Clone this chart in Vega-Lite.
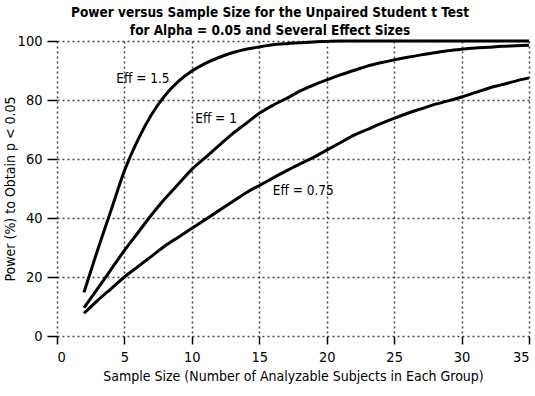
{
  "$schema": "https://vega.github.io/schema/vega-lite/v6.json",
  "width": 472,
  "height": 295,
  "autosize": {"type": "none"},
  "padding": {"left": 57, "top": 41, "right": 6, "bottom": 60},
  "background": "white",
  "title": {
    "text": ["Power versus Sample Size for the Unpaired Student t Test", "for Alpha = 0.05 and Several Effect Sizes"],
    "font": "DejaVu Sans Condensed, sans-serif",
    "fontSize": 13.5,
    "fontWeight": "bold",
    "color": "black",
    "anchor": "middle",
    "dx": -23,
    "offset": -4,
    "lineHeight": 18
  },
  "config": {
    "view": {"stroke": null},
    "font": "DejaVu Sans Condensed, sans-serif",
    "axis": {
      "labelFont": "DejaVu Sans Condensed, sans-serif",
      "titleFont": "DejaVu Sans Condensed, sans-serif",
      "labelFontSize": 14.5,
      "titleFontSize": 14,
      "titleFontWeight": "normal",
      "labelColor": "black",
      "titleColor": "black",
      "domain": false,
      "tickColor": "black",
      "tickWidth": 1.5,
      "gridColor": "#444",
      "gridDash": [2, 3],
      "gridWidth": 1.5,
      "gridOpacity": 1
    }
  },
  "datasets": {
    "curves": [
      {"n": 2, "power": 14.8, "eff": "1.5"}, {"n": 3, "power": 29, "eff": "1.5"}, {"n": 4, "power": 42.5, "eff": "1.5"}, {"n": 5, "power": 56, "eff": "1.5"}, {"n": 6, "power": 66.5, "eff": "1.5"}, {"n": 7, "power": 75, "eff": "1.5"}, {"n": 8, "power": 81.5, "eff": "1.5"}, {"n": 9, "power": 86.3, "eff": "1.5"}, {"n": 10, "power": 89.8, "eff": "1.5"}, {"n": 11, "power": 92.4, "eff": "1.5"}, {"n": 12, "power": 94.4, "eff": "1.5"}, {"n": 13, "power": 96, "eff": "1.5"}, {"n": 14, "power": 97.2, "eff": "1.5"}, {"n": 15, "power": 98, "eff": "1.5"}, {"n": 16, "power": 98.7, "eff": "1.5"}, {"n": 17, "power": 99.1, "eff": "1.5"}, {"n": 18, "power": 99.4, "eff": "1.5"}, {"n": 19, "power": 99.7, "eff": "1.5"}, {"n": 20, "power": 99.85, "eff": "1.5"}, {"n": 21, "power": 100, "eff": "1.5"}, {"n": 22, "power": 100, "eff": "1.5"}, {"n": 23, "power": 100, "eff": "1.5"}, {"n": 24, "power": 100, "eff": "1.5"}, {"n": 25, "power": 100, "eff": "1.5"}, {"n": 26, "power": 100, "eff": "1.5"}, {"n": 27, "power": 100, "eff": "1.5"}, {"n": 28, "power": 100, "eff": "1.5"}, {"n": 29, "power": 100, "eff": "1.5"}, {"n": 30, "power": 100, "eff": "1.5"}, {"n": 31, "power": 100, "eff": "1.5"}, {"n": 32, "power": 100, "eff": "1.5"}, {"n": 33, "power": 100, "eff": "1.5"}, {"n": 34, "power": 100, "eff": "1.5"}, {"n": 35, "power": 100, "eff": "1.5"},
      {"n": 2, "power": 9.6, "eff": "1"}, {"n": 3, "power": 16, "eff": "1"}, {"n": 4, "power": 22.5, "eff": "1"}, {"n": 5, "power": 29, "eff": "1"}, {"n": 6, "power": 35, "eff": "1"}, {"n": 7, "power": 41, "eff": "1"}, {"n": 8, "power": 46.5, "eff": "1"}, {"n": 9, "power": 51.5, "eff": "1"}, {"n": 10, "power": 56.5, "eff": "1"}, {"n": 11, "power": 60.5, "eff": "1"}, {"n": 12, "power": 64.5, "eff": "1"}, {"n": 13, "power": 68.5, "eff": "1"}, {"n": 14, "power": 72, "eff": "1"}, {"n": 15, "power": 75.5, "eff": "1"}, {"n": 16, "power": 78.2, "eff": "1"}, {"n": 17, "power": 80.5, "eff": "1"}, {"n": 18, "power": 83, "eff": "1"}, {"n": 19, "power": 85, "eff": "1"}, {"n": 20, "power": 86.8, "eff": "1"}, {"n": 21, "power": 88.5, "eff": "1"}, {"n": 22, "power": 90, "eff": "1"}, {"n": 23, "power": 91.5, "eff": "1"}, {"n": 24, "power": 92.6, "eff": "1"}, {"n": 25, "power": 93.6, "eff": "1"}, {"n": 26, "power": 94.5, "eff": "1"}, {"n": 27, "power": 95.3, "eff": "1"}, {"n": 28, "power": 96, "eff": "1"}, {"n": 29, "power": 96.7, "eff": "1"}, {"n": 30, "power": 97.2, "eff": "1"}, {"n": 31, "power": 97.6, "eff": "1"}, {"n": 32, "power": 97.9, "eff": "1"}, {"n": 33, "power": 98.2, "eff": "1"}, {"n": 34, "power": 98.4, "eff": "1"}, {"n": 35, "power": 98.6, "eff": "1"},
      {"n": 2, "power": 7.7, "eff": "0.75"}, {"n": 3, "power": 12, "eff": "0.75"}, {"n": 4, "power": 16, "eff": "0.75"}, {"n": 5, "power": 20, "eff": "0.75"}, {"n": 6, "power": 23.5, "eff": "0.75"}, {"n": 7, "power": 27, "eff": "0.75"}, {"n": 8, "power": 30.5, "eff": "0.75"}, {"n": 9, "power": 33.5, "eff": "0.75"}, {"n": 10, "power": 36.5, "eff": "0.75"}, {"n": 11, "power": 39.5, "eff": "0.75"}, {"n": 12, "power": 42.5, "eff": "0.75"}, {"n": 13, "power": 45.5, "eff": "0.75"}, {"n": 14, "power": 48.5, "eff": "0.75"}, {"n": 15, "power": 51, "eff": "0.75"}, {"n": 16, "power": 53.5, "eff": "0.75"}, {"n": 17, "power": 56, "eff": "0.75"}, {"n": 18, "power": 58.3, "eff": "0.75"}, {"n": 19, "power": 60.5, "eff": "0.75"}, {"n": 20, "power": 63, "eff": "0.75"}, {"n": 21, "power": 65.5, "eff": "0.75"}, {"n": 22, "power": 68, "eff": "0.75"}, {"n": 23, "power": 70, "eff": "0.75"}, {"n": 24, "power": 72, "eff": "0.75"}, {"n": 25, "power": 73.8, "eff": "0.75"}, {"n": 26, "power": 75.5, "eff": "0.75"}, {"n": 27, "power": 77, "eff": "0.75"}, {"n": 28, "power": 78.5, "eff": "0.75"}, {"n": 29, "power": 79.7, "eff": "0.75"}, {"n": 30, "power": 81, "eff": "0.75"}, {"n": 31, "power": 82.5, "eff": "0.75"}, {"n": 32, "power": 84, "eff": "0.75"}, {"n": 33, "power": 85.2, "eff": "0.75"}, {"n": 34, "power": 86.4, "eff": "0.75"}, {"n": 35, "power": 87.5, "eff": "0.75"}
    ],
    "labels": [
      {"n": 4.4, "power": 87, "label": "Eff = 1.5"},
      {"n": 10.25, "power": 73.4, "label": "Eff = 1"},
      {"n": 16.0, "power": 49.3, "label": "Eff = 0.75"}
    ]
  },
  "layer": [
    {
      "data": {"name": "curves"},
      "mark": {"type": "line", "color": "black", "strokeWidth": 3, "clip": false, "interpolate": "monotone"},
      "encoding": {
        "x": {
          "field": "n", "type": "quantitative",
          "scale": {"domain": [0, 35], "nice": false, "zero": false},
          "axis": {"values": [0, 5, 10, 15, 20, 25, 30, 35], "tickSize": 8, "labelPadding": 6, "title": "Sample Size (Number of Analyzable Subjects in Each Group)", "titlePadding": 6}
        },
        "y": {
          "field": "power", "type": "quantitative",
          "scale": {"domain": [0, 100], "nice": false},
          "axis": {"values": [0, 20, 40, 60, 80, 100], "tickSize": 10, "labelPadding": 5, "title": "Power (%) to Obtain p < 0.05", "titleX": -47, "titleY": 147.5, "titleAngle": -90, "titleAlign": "center", "titleBaseline": "middle"}
        },
        "detail": {"field": "eff", "type": "nominal"}
      }
    },
    {
      "mark": {"type": "rule", "color": "black", "strokeWidth": 2},
      "encoding": {"x": {"datum": 35}}
    },
    {
      "data": {"name": "labels"},
      "mark": {"type": "text", "align": "left", "baseline": "middle", "fontSize": 13.5, "color": "black", "font": "DejaVu Sans Condensed, sans-serif"},
      "encoding": {
        "x": {"field": "n", "type": "quantitative"},
        "y": {"field": "power", "type": "quantitative"},
        "text": {"field": "label"}
      }
    }
  ]
}
